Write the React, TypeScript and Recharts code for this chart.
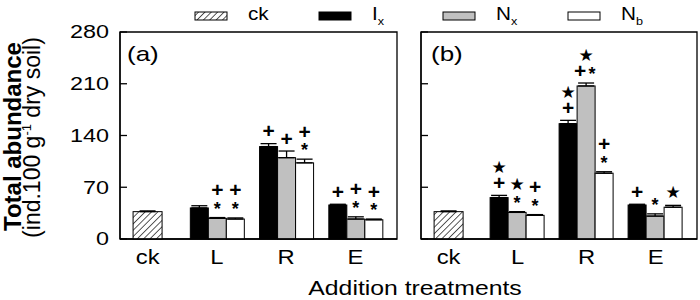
import { BarChart, Bar, XAxis, YAxis, ErrorBar, ReferenceArea } from 'recharts';

const FONT = '"Liberation Sans", Arial, sans-serif';

const categories = ['ck', 'L', 'R', 'E'];
const yTicks = [0, 70, 140, 210, 280];

// panel (a)
const ckA = [37, null, null, null];
const ckErrA = [1, null, null, null];
const ixA = [null, 42, 125, 46];
const ixErrA = [null, 3, 4, 1];
const nxA = [null, 28, 110, 27];
const nxErrA = [null, 1, 9, 3];
const nbA = [null, 27, 103, 26];
const nbErrA = [null, 1.5, 5, 1];
const ixAnnA = ['', '', '+', '+'];
const nxAnnA = ['', '+|*', '+', '+|*'];
const nbAnnA = ['', '+|*', '+|*', '+|*'];

// panel (b)
const ckB = [37, null, null, null];
const ckErrB = [1, null, null, null];
const ixB = [null, 56, 156, 46];
const ixErrB = [null, 3, 4.5, 1];
const nxB = [null, 36, 207, 31];
const nxErrB = [null, 1, 4, 3];
const nbB = [null, 32, 89, 43];
const nbErrB = [null, 1, 2, 2.5];
const ixAnnB = ['', '★|+', '★|+', '+'];
const nxAnnB = ['', '★|*', '★|+*', '*'];
const nbAnnB = ['', '+|*', '+|*', '★'];

const legendNames = ['ck', 'I', 'N', 'N'];
const legendSubs = ['', 'x', 'x', 'b'];

const series = [
  { key: 'Ix', fill: '#000000' },
  { key: 'Nx', fill: '#c0c0c0' },
  { key: 'Nb', fill: '#ffffff' },
];

type Num = number | null;

const errPair = (e: Num) => (e == null ? undefined : [0, e]);

function buildRows(
  ck: Num[], ckErr: Num[],
  ix: Num[], ixErr: Num[], ixAnn: string[],
  nx: Num[], nxErr: Num[], nxAnn: string[],
  nb: Num[], nbErr: Num[], nbAnn: string[],
) {
  return categories.map((cat, i) => ({
    idx: i,
    cat,
    ck: ck[i],
    ckErr: errPair(ckErr[i]),
    Ix: ix[i],
    IxErr: errPair(ixErr[i]),
    IxAnn: ixAnn[i],
    Nx: nx[i],
    NxErr: errPair(nxErr[i]),
    NxAnn: nxAnn[i],
    Nb: nb[i],
    NbErr: errPair(nbErr[i]),
    NbAnn: nbAnn[i],
  }));
}

const rowsA = buildRows(ckA, ckErrA, ixA, ixErrA, ixAnnA, nxA, nxErrA, nxAnnA, nbA, nbErrA, nbAnnA);
const rowsB = buildRows(ckB, ckErrB, ixB, ixErrB, ixAnnB, nxB, nxErrB, nxAnnB, nbB, nbErrB, nbAnnB);

const glyphs: Record<string, { size: number; weight: number; family: string; shift: number }> = {
  '+': { size: 21, weight: 700, family: FONT, shift: 0 },
  '*': { size: 18, weight: 700, family: FONT, shift: 4 },
  '★': { size: 17, weight: 400, family: '"DejaVu Sans", sans-serif', shift: 0 },
};

function makeShape(key: string, fill: string) {
  return (props: any) => {
    const { x, y, width, height, payload } = props;
    const v = payload[key];
    if (v == null || !height) return <g />;
    const err = payload[key + 'Err'] ? payload[key + 'Err'][1] : 0;
    const errTop = y - (v > 0 ? (err * height) / v : 0);
    const ann: string = payload[key + 'Ann'] || '';
    const rows = ann ? ann.split('|').reverse() : [];
    const cx = x + width / 2;
    return (
      <g>
        <rect x={x} y={y} width={width} height={height} fill={fill} stroke="#000" strokeWidth={1} />
        {rows.map((row, r) => {
          const chars = Array.from(row);
          return chars.map((ch, j) => {
            const g = glyphs[ch];
            return (
              <text
                key={`${r}-${j}`}
                x={cx + (j - (chars.length - 1) / 2) * 12}
                y={errTop - 13 - r * 15 + g.shift}
                textAnchor="middle"
                dominantBaseline="central"
                fontSize={g.size}
                fontWeight={g.weight}
                fontFamily={g.family}
                fill="#000"
              >
                {ch}
              </text>
            );
          });
        })}
      </g>
    );
  };
}

const XTick = (props: any) => {
  const { x, y, payload } = props;
  return (
    <text
      transform={`translate(${x},${y}) scale(1.22,1)`}
      textAnchor="middle"
      dy="0.71em"
      fontSize={19.5}
      fontFamily={FONT}
      fill="#000"
    >
      {categories[payload.value]}
    </text>
  );
};

const YTick = (props: any) => {
  const { x, y, payload, showLabel } = props;
  return (
    <g>
      <line x1={x} x2={x + 7} y1={y} y2={y} stroke="#000" strokeWidth={1.3} />
      {showLabel && (
        <text
          transform={`translate(${x - 11},${y}) scale(1.3,1)`}
          textAnchor="end"
          dy="0.355em"
          fontSize={18}
          fontFamily={FONT}
          fill="#000"
        >
          {payload.value}
        </text>
      )}
    </g>
  );
};

const axisLine = { stroke: '#000', strokeWidth: 1.3 };
const xDomain: [number, number] = [-0.4, 3.6];

function Panel({ rows, showLabels, width, yWidth, marginRight }: any) {
  return (
    <BarChart
      width={width}
      height={300}
      data={rows}
      margin={{ top: 32, right: marginRight, bottom: 31, left: 0 }}
      barGap={0}
    >
      <XAxis
        xAxisId="main"
        type="number"
        dataKey="idx"
        domain={xDomain}
        ticks={[0, 1, 2, 3]}
        interval={0}
        height={30}
        tickLine={false}
        tickSize={0}
        tickMargin={11}
        axisLine={axisLine}
        tick={<XTick />}
      />
      <XAxis xAxisId="ck" type="number" dataKey="idx" domain={xDomain} ticks={[0, 1, 2, 3]} height={0} hide />
      <YAxis
        yAxisId="left"
        type="number"
        domain={[0, 280]}
        ticks={yTicks}
        interval={0}
        width={yWidth}
        tickLine={false}
        tickSize={0}
        tickMargin={0}
        axisLine={axisLine}
        tick={(p: any) => <YTick {...p} showLabel={showLabels} />}
      />
      <ReferenceArea
        xAxisId="main"
        yAxisId="left"
        x1={xDomain[0]}
        x2={xDomain[1]}
        y1={0}
        y2={280}
        fill="none"
        fillOpacity={0}
        stroke="#000"
        strokeWidth={1.3}
        ifOverflow="visible"
      />
      <Bar
        xAxisId="ck"
        yAxisId="left"
        dataKey="ck"
        barSize={29}
        shape={makeShape('ck', 'url(#hatch)')}
        isAnimationActive={false}
      >
        <ErrorBar dataKey="ckErr" width={8} stroke="#000" strokeWidth={1.3} direction="y" />
      </Bar>
      {series.map((s) => (
        <Bar
          key={s.key}
          xAxisId="main"
          yAxisId="left"
          dataKey={s.key}
          barSize={18}
          shape={makeShape(s.key, s.fill)}
          isAnimationActive={false}
        >
          <ErrorBar dataKey={`${s.key}Err`} width={8} stroke="#000" strokeWidth={1.3} direction="y" />
        </Bar>
      ))}
    </BarChart>
  );
}

const legendFills = ['url(#hatch)', '#000000', '#c0c0c0', '#ffffff'];
const legendX = [195, 319, 443, 568];

export default function App() {
  return (
    <div style={{ position: 'absolute', left: 0, top: 0, width: 700, height: 300, background: '#fff' }}>
      <svg width={0} height={0} style={{ position: 'absolute' }}>
        <defs>
          <pattern id="hatch" patternUnits="userSpaceOnUse" width="4.5" height="4.5" patternTransform="rotate(45)">
            <rect width="4.5" height="4.5" fill="#fff" />
            <line x1="0" y1="0" x2="0" y2="4.5" stroke="#000" strokeWidth="1.3" />
          </pattern>
        </defs>
      </svg>
      <div style={{ position: 'absolute', left: 0, top: 0 }}>
        <Panel rows={rowsA} showLabels width={405} yWidth={120} marginRight={8} />
      </div>
      <div style={{ position: 'absolute', left: 400, top: 0 }}>
        <Panel rows={rowsB} showLabels={false} width={300} yWidth={21} marginRight={3} />
      </div>
      <svg
        width={700}
        height={300}
        style={{ position: 'absolute', left: 0, top: 0, pointerEvents: 'none' }}
        fontFamily={FONT}
      >
        {legendNames.map((name, i) => (
          <g key={i}>
            <rect x={legendX[i]} y={12} width={32} height={8} fill={legendFills[i]} stroke="#000" strokeWidth={1} />
            <text transform={`translate(${legendX[i] + 53},20) scale(1.15,1)`} fontSize={18} fill="#000">
              {name}
              {legendSubs[i] && (
                <tspan fontSize={11} dy={5}>
                  {legendSubs[i]}
                </tspan>
              )}
            </text>
          </g>
        ))}
        <text transform="translate(127,61) scale(1.3,1)" fontSize={20} fill="#000">(a)</text>
        <text transform="translate(431,61) scale(1.3,1)" fontSize={20} fill="#000">(b)</text>
        <text
          transform="translate(21,136.5) rotate(-90)"
          textAnchor="middle"
          fontSize={24}
          fontWeight={700}
          fill="#000"
        >
          Total abundance
        </text>
        <text transform="translate(40,137.5) rotate(-90)" textAnchor="middle" fontSize={23} fill="#000">
          (ind.100 g
          <tspan fontSize={13} dy={-9}>-1</tspan>
          <tspan dy={9}> dry soil)</tspan>
        </text>
        <text
          transform="translate(415,295) scale(1.18,1)"
          textAnchor="middle"
          fontSize={21}
          fill="#000"
        >
          Addition treatments
        </text>
      </svg>
    </div>
  );
}
